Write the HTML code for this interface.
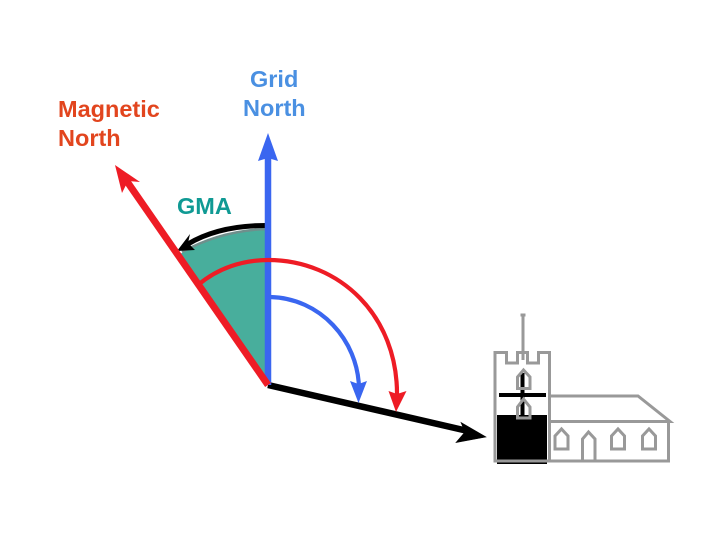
<!DOCTYPE html>
<html><head><meta charset="utf-8"><style>
html,body{margin:0;padding:0;background:#fff}
svg{display:block}
text{font-family:"Liberation Sans",sans-serif;font-size:23.500px;font-weight:700}
</style></head><body>
<svg width="720" height="540" viewBox="0 0 720 540" xmlns="http://www.w3.org/2000/svg">
<rect width="720" height="540" fill="#fff"/>
<text x="250" y="87" fill="#4a90e2">Grid</text>
<text x="243" y="116" fill="#4a90e2">North</text>
<text x="58" y="117" fill="#e2451e">Magnetic</text>
<text x="58" y="146" fill="#e2451e">North</text>
<text x="177" y="214" fill="#109a94">GMA</text>

<!-- sector -->
<path d="M268 385 L180 254 Q220 230 268 229 Z" fill="#48ae9c"/>
<path d="M182 252 Q222 230 268 229" fill="none" stroke="#6f8f8c" stroke-width="2.500"/>
<!-- GMA arrow -->
<path d="M266 225.500 C234 225.500 208 232 188 244" fill="none" stroke="#000" stroke-width="5"/>
<path d="M177 251 L190 234 L188 243 L195 250 Z" fill="#000"/>

<!-- church -->
<g fill="none" stroke="#999" stroke-width="3">
<path d="M523 315 V360"/><path d="M520.500 315 H525.500"/>
</g>
<rect x="497" y="415" width="50" height="49" fill="#000"/>
<path d="M499 395 H546" stroke="#000" stroke-width="4"/>
<path d="M522.500 373 V415" stroke="#000" stroke-width="4"/>
<g fill="none" stroke="#999" stroke-width="3">
<path d="M495 461 V352.500 H506.500 V363 H517.500 V352.500 H527.500 V363 H538.500 V352.500 H549.500 V461 Z"/>
<path d="M517.500 388.500 V377 L523.500 370 L530 377 V388.500 Z"/>
<path d="M517.500 418 V407 L523.500 399 L530 407 V418 Z"/>
<path d="M550 396 H638 L670 421.500 H550"/>
<path d="M668.500 421.500 V461 H549"/>
<path d="M555 449 V436 L561.500 429 L568 436 V449 Z"/>
<path d="M582.500 461 V439 L588.500 432 L595 439 V461"/>
<path d="M611.500 449 V436 L618 429 L624.500 436 V449 Z"/>
<path d="M642.500 449 V436 L649 429 L655.500 436 V449 Z"/>
</g>

<!-- black bearing -->
<path d="M268 385 L470 431.500" stroke="#000" stroke-width="6.500" fill="none"/>
<path d="M486 437 L456 442.500 L465 432 L461 422.500 Z" fill="#000" stroke="#000" stroke-width=".6"/>

<!-- blue north -->
<path d="M268 385 V155" stroke="#3a66f0" stroke-width="6.500" fill="none"/>
<path d="M268 133 L278 161 L268 158 L258 161 Z" fill="#3a66f0"/>

<!-- red magnetic -->
<path d="M268 385 L126 180" stroke="#ee1c25" stroke-width="7" fill="none"/>
<path d="M115 165 L140 182 L128 181 L122 193 Z" fill="#ee1c25"/>

<!-- red arc -->
<path d="M198 285 C218 268 243 260 268 260 C340 260 398 316 397 396" fill="none" stroke="#ee1c25" stroke-width="4.200"/>
<path d="M396 412 L388.500 391 L397 394 L406.500 391 Z" fill="#ee1c25"/>
<!-- blue arc -->
<path d="M270 297 C320 298 358 340 359 388" fill="none" stroke="#3a66f0" stroke-width="4.200"/>
<path d="M358.500 403 L350 381 L358.500 384 L367 381 Z" fill="#3a66f0"/>
</svg>
</body></html>
